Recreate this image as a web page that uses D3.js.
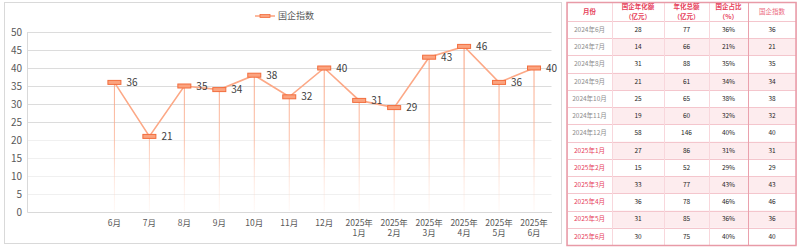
<!DOCTYPE html>
<html>
<head>
<meta charset="utf-8">
<script src="https://cdn.jsdelivr.net/npm/d3@7"></script>
<style>
  body { margin: 0; background: #fff; }
  svg { display: block; }
</style>
</head>
<body>
<svg id="chart" width="800" height="249"></svg>
<script>
// chart data
const categories = ["", "", "6月", "7月", "8月", "9月", "10月", "11月", "12月",
    "2025年\n1月", "2025年\n2月", "2025年\n3月", "2025年\n4月", "2025年\n5月", "2025年\n6月"];
const indexValues = [null, null, 36, 21, 35, 34, 38, 32, 40, 31, 29, 43, 46, 36, 40];
const yTicks = [0, 5, 10, 15, 20, 25, 30, 35, 40, 45, 50];
const seriesName = "国企指数";

// table data
const tableHeader = ["月份", "国企年化额\n（亿元）", "年化总额\n（亿元）", "国企占比\n（%）", "国企指数"];
const months = ["2024年6月", "2024年7月", "2024年8月", "2024年9月", "2024年10月", "2024年11月", "2024年12月",
    "2025年1月", "2025年2月", "2025年3月", "2025年4月", "2025年5月", "2025年6月"];
const soeAmount = [28, 14, 31, 21, 25, 19, 58, 27, 15, 33, 36, 31, 30];
const totalAmount = [77, 66, 88, 61, 65, 60, 146, 86, 52, 77, 78, 85, 75];
const soeShare = ["36%", "21%", "35%", "34%", "38%", "32%", "40%", "31%", "29%", "43%", "46%", "36%", "40%"];
const soeIndex = [36, 21, 35, 34, 38, 32, 40, 31, 29, 43, 46, 36, 40];

const svg = d3.select("#chart");
const cjk = "'Noto Sans CJK SC', 'Noto Sans', sans-serif";

// ---------- chart panel ----------
svg.append("rect")
    .attr("x", 4.5).attr("y", 2.5)
    .attr("width", 557).attr("height", 241)
    .attr("fill", "#fff")
    .attr("stroke", "#d9d9d9");

const plot = { left: 27, right: 551.5, top: 32, bottom: 212 };

const x = d3.scaleBand()
    .domain(d3.range(categories.length))
    .range([plot.left, plot.right]);

const y = d3.scaleLinear()
    .domain([0, 50])
    .range([plot.bottom, plot.top]);

// gridlines
svg.append("g")
    .selectAll("line")
    .data(yTicks.filter(d => d > 0))
    .enter()
    .append("line")
    .attr("x1", plot.left).attr("x2", plot.right)
    .attr("y1", d => Math.round(y(d)) + 0.5)
    .attr("y2", d => Math.round(y(d)) + 0.5)
    .attr("stroke", d => d >= 25 ? "#dcdcdc" : "#f0f0f0");

// y axis
const yAxis = d3.axisLeft(y).tickValues(yTicks).tickSize(0).tickPadding(5);
const yG = svg.append("g")
    .attr("transform", `translate(${plot.left},0)`)
    .call(yAxis);
yG.select(".domain").attr("stroke", "#d9d9d9");
yG.selectAll("text")
    .attr("fill", "#595959")
    .style("font-family", cjk)
    .style("font-size", "10px");

// x axis (labels drawn as separate lines)
const xAxis = d3.axisBottom(x).tickSize(0).tickFormat(() => "");
const xG = svg.append("g")
    .attr("transform", `translate(0,${plot.bottom})`)
    .call(xAxis);
xG.select(".domain").attr("stroke", "#d9d9d9");
xG.selectAll(".tick").each(function(i) {
    const tick = d3.select(this);
    tick.select("text").remove();
    categories[i].split("\n").forEach((s, k) => {
        tick.append("text")
            .attr("x", 0)
            .attr("y", 11 + k * 10.5)
            .attr("dy", "0.35em")
            .attr("text-anchor", "middle")
            .attr("fill", "#595959")
            .style("font-family", cjk)
            .style("font-size", "8.5px")
            .text(s);
    });
});

// gradient for drop lines
const defs = svg.append("defs");
const grad = defs.append("linearGradient")
    .attr("id", "dropGrad")
    .attr("gradientUnits", "userSpaceOnUse")
    .attr("x1", 0).attr("x2", 0)
    .attr("y1", plot.top).attr("y2", plot.bottom);
grad.append("stop").attr("offset", "0%").attr("stop-color", "#f8926a").attr("stop-opacity", 1);
grad.append("stop").attr("offset", "60%").attr("stop-color", "#fbb295").attr("stop-opacity", 0.8);
grad.append("stop").attr("offset", "100%").attr("stop-color", "#fde2d6").attr("stop-opacity", 0.2);

const pts = indexValues
    .map((v, i) => ({ i, v }))
    .filter(d => d.v !== null);
const cx = d => x(d.i) + x.bandwidth() / 2;

// drop lines
svg.append("g")
    .selectAll("line")
    .data(pts)
    .enter()
    .append("line")
    .attr("x1", cx).attr("x2", cx)
    .attr("y1", d => y(d.v))
    .attr("y2", plot.bottom - 1)
    .attr("stroke", "url(#dropGrad)")
    .attr("stroke-width", 1);

// series line
const line = d3.line().x(cx).y(d => y(d.v));
svg.append("path")
    .datum(pts)
    .attr("d", line)
    .attr("fill", "none")
    .attr("stroke", "#fca886")
    .attr("stroke-width", 1.6);

// markers
svg.append("g")
    .selectAll("rect")
    .data(pts)
    .enter()
    .append("rect")
    .attr("x", d => cx(d) - 6.5)
    .attr("y", d => y(d.v) - 2)
    .attr("width", 13)
    .attr("height", 4)
    .attr("fill", "#fba37f")
    .attr("stroke", "#f26d3d")
    .attr("stroke-width", 1);

// data labels
svg.append("g")
    .selectAll("text")
    .data(pts)
    .enter()
    .append("text")
    .attr("x", d => cx(d) + 12)
    .attr("y", d => y(d.v))
    .attr("dy", "0.35em")
    .attr("fill", "#404040")
    .style("font-family", cjk)
    .style("font-size", "10px")
    .text(d => d.v);

// legend
const lg = svg.append("g").attr("transform", "translate(255,16)");
lg.append("line")
    .attr("x1", 0).attr("x2", 20)
    .attr("y1", 0).attr("y2", 0)
    .attr("stroke", "#fca886").attr("stroke-width", 1.6);
lg.append("rect")
    .attr("x", 5).attr("y", -1.5).attr("width", 10).attr("height", 3)
    .attr("fill", "#fba37f").attr("stroke", "#f26d3d").attr("stroke-width", 0.8);
lg.append("text")
    .attr("x", 23).attr("y", 0).attr("dy", "0.35em")
    .attr("fill", "#595959")
    .style("font-family", cjk)
    .style("font-size", "9px")
    .text(seriesName);

// ---------- table ----------
const colEdges = [567, 612, 664, 709, 748, 796];
const headTop = 2, headBottom = 21, tableBottom = 245;
const rowY = d3.scaleBand()
    .domain(d3.range(months.length))
    .range([headBottom, tableBottom]);

const tg = svg.append("g");

// row fills
months.forEach((m, r) => {
    if (r % 2 === 1) {
        tg.append("rect")
            .attr("x", colEdges[1]).attr("y", rowY(r))
            .attr("width", colEdges[5] - colEdges[1]).attr("height", rowY.bandwidth())
            .attr("fill", "#fdecee");
    }
});

// inner horizontal lines
d3.range(months.length + 1).forEach(r => {
    const yy = r === 0 ? headBottom : rowY(r - 1) + rowY.bandwidth();
    tg.append("line")
        .attr("x1", colEdges[0]).attr("x2", colEdges[5])
        .attr("y1", Math.round(yy) + 0.5).attr("y2", Math.round(yy) + 0.5)
        .attr("stroke", "#f4c6cd").attr("stroke-width", 1);
});

// vertical lines
colEdges.forEach((cxv, k) => {
    tg.append("line")
        .attr("x1", cxv + 0.5).attr("x2", cxv + 0.5)
        .attr("y1", headTop).attr("y2", tableBottom)
        .attr("stroke", k === 4 ? "#eaa1ad" : "#f8d7dc")
        .attr("stroke-width", 1);
});

// outer border
tg.append("rect")
    .attr("x", colEdges[0]).attr("y", headTop + 0.5)
    .attr("width", colEdges[5] - colEdges[0]).attr("height", tableBottom - headTop)
    .attr("fill", "none")
    .attr("stroke", "#e89aa7")
    .attr("stroke-width", 1.5);

// header text
tableHeader.forEach((h, k) => {
    const lines = h.split("\n");
    const mid = (colEdges[k] + colEdges[k + 1]) / 2;
    lines.forEach((s, j) => {
        tg.append("text")
            .attr("x", mid)
            .attr("y", lines.length === 1 ? 12 : 7 + j * 9.5)
            .attr("dy", "0.35em")
            .attr("text-anchor", "middle")
            .attr("fill", k === 4 ? "#ec6a80" : "#e6405a")
            .style("font-family", cjk)
            .style("font-size", "6.5px")
            .style("font-weight", k === 4 ? "normal" : "bold")
            .text(s);
    });
});

// body text
const rows = months.map((m, r) => [m, soeAmount[r], totalAmount[r], soeShare[r], soeIndex[r]]);
rows.forEach((row, r) => {
    row.forEach((val, k) => {
        tg.append("text")
            .attr("x", (colEdges[k] + colEdges[k + 1]) / 2)
            .attr("y", rowY(r) + rowY.bandwidth() / 2)
            .attr("dy", "0.35em")
            .attr("text-anchor", "middle")
            .attr("fill", k === 0 ? (String(val).startsWith("2025") ? "#e6405a" : "#8c8c8c") : "#262626")
            .style("font-family", cjk)
            .style("font-size", "6.5px")
            .text(val);
    });
});
</script>
</body>
</html>
